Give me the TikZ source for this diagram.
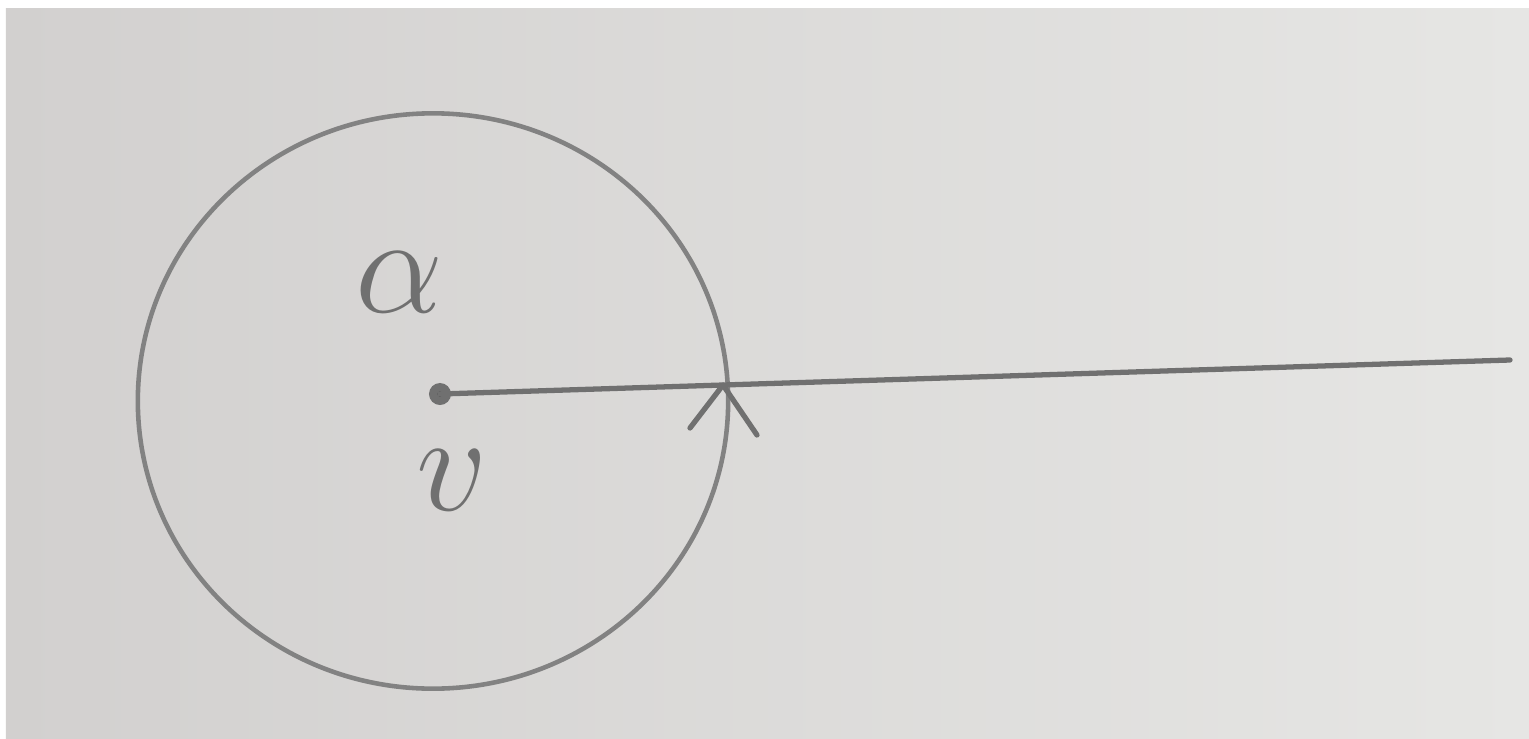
\documentclass[tikz,border=0pt]{standalone}
\usepackage{tikz}
\usetikzlibrary{shapes.geometric,calc}
\definecolor{paperdark}{RGB}{210,208,207}
\definecolor{paperlight}{RGB}{230,230,228}
\definecolor{lead}{RGB}{112,112,112}
\definecolor{leadsoft}{RGB}{130,130,130}
\newcommand{\bigsym}[1]{\scalebox{1.6}{$#1$}}

\begin{document}
\begin{tikzpicture}[
    x=0.01cm, y=-0.01cm,
    pencil/.style = {draw=lead, line width=1.5pt, line cap=round, line join=round},
    ring/.style   = {ellipse, draw=leadsoft, line width=1.3pt, inner sep=0pt,
                     minimum width=5.9cm, minimum height=5.75cm},
    pin/.style    = {circle, fill=lead, inner sep=0pt, minimum size=0.22cm},
    lbl/.style    = {text=lead, font=\Huge, inner sep=0pt}
  ]
    % paper
    \fill[white] (0,0) rectangle (1529,739);
    \shade[left color=paperdark, right color=paperlight] (6,8) rectangle (1529,739);
    \useasboundingbox (0,0) rectangle (1529,739);

    \node[ring] (disc) at (433,401) {};
    \node[pin]  (v)    at (440,394) {};
    \fill[black!85] (v.center) circle (0.025cm);

    \node[lbl] (alpha) at (400,282) {\bigsym{\alpha}};
    \node[lbl] (vname) at (452,480) {\bigsym{v}};

    \coordinate (tip)  at (1510,360);
    \coordinate (turn) at (723,385);

    \draw[pencil] (v.center) -- (tip);
    \draw[pencil] ($(turn)+(-33,43)$) -- (turn) -- ++(34,50);
  \end{tikzpicture}
\end{document}
